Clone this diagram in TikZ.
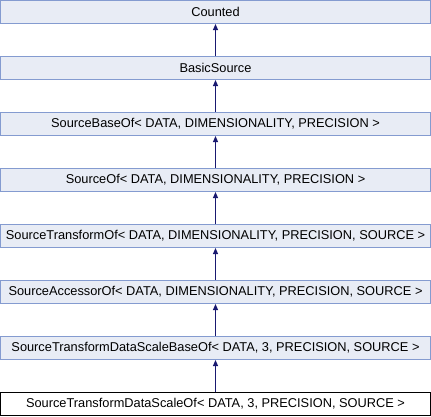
\documentclass[tikz,border=0pt]{standalone}
\usepackage{fontspec}
\setmainfont{Liberation Sans}
\usetikzlibrary{arrows.meta}
\definecolor{boxfill}{RGB}{232,236,245}
\definecolor{boxline}{RGB}{132,155,208}
\definecolor{arrowcol}{RGB}{25,25,112}
\begin{document}
\begin{tikzpicture}[x=1pt,y=1pt,
  cls/.style={draw=boxline,fill=boxfill,line width=1pt,rectangle,minimum width=430pt,minimum height=23pt,inner sep=0pt,font=\fontsize{12.8}{14}\selectfont},
  cur/.style={cls,draw=black,fill=white},
  inh/.style={draw=arrowcol,line width=1pt,-{Triangle[width=5pt,length=6pt]}}]
\useasboundingbox (0,0) rectangle (431,-416);
\node[cls] (n0) at (215.5,-12) {Counted};
\node[cls] (n1) at (215.5,-68) {BasicSource};
\node[cls] (n2) at (215.5,-124) {SourceBaseOf< DATA, DIMENSIONALITY, PRECISION >};
\node[cls] (n3) at (215.5,-180) {SourceOf< DATA, DIMENSIONALITY, PRECISION >};
\node[cls] (n4) at (215.5,-236) {SourceTransformOf< DATA, DIMENSIONALITY, PRECISION, SOURCE >};
\node[cls] (n5) at (215.5,-292) {SourceAccessorOf< DATA, DIMENSIONALITY, PRECISION, SOURCE >};
\node[cls] (n6) at (215.5,-348) {SourceTransformDataScaleBaseOf< DATA, 3, PRECISION, SOURCE >};
\node[cur] (n7) at (215.5,-404) {SourceTransformDataScaleOf< DATA, 3, PRECISION, SOURCE >};
\draw[inh] (n1.north) -- (n0.south);
\draw[inh] (n2.north) -- (n1.south);
\draw[inh] (n3.north) -- (n2.south);
\draw[inh] (n4.north) -- (n3.south);
\draw[inh] (n5.north) -- (n4.south);
\draw[inh] (n6.north) -- (n5.south);
\draw[inh] (n7.north) -- (n6.south);
\end{tikzpicture}
\end{document}
